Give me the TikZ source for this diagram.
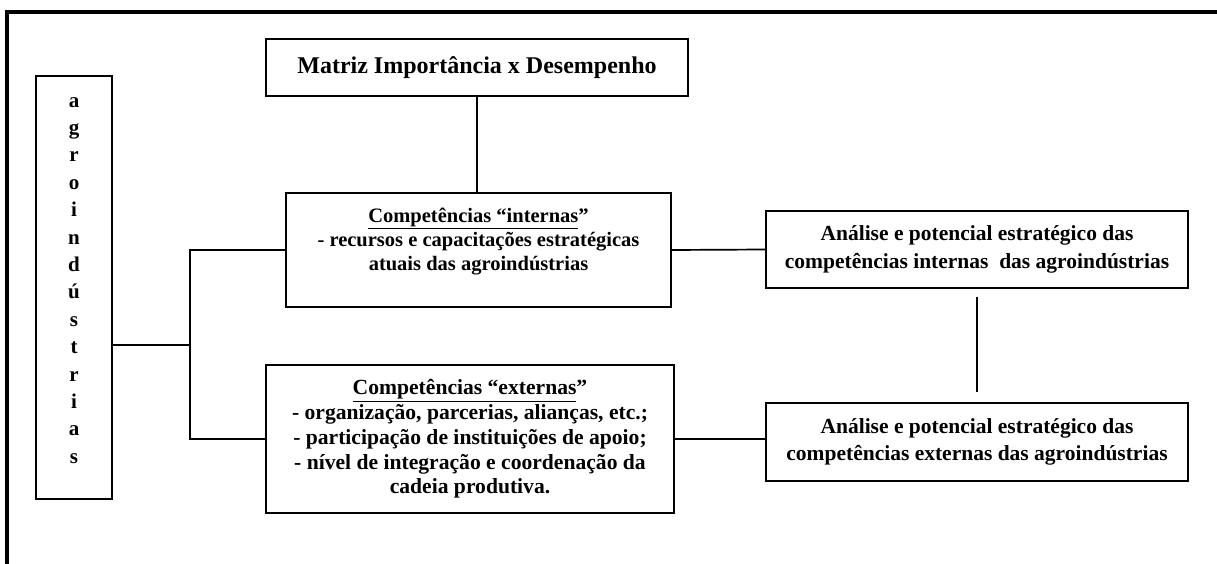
\documentclass[tikz,border=0pt]{standalone}
\usepackage{fontspec}
\setmainfont{Liberation Serif}
\usetikzlibrary{positioning,calc}

\begin{document}
\begin{tikzpicture}[
		x=1pt, y=-1pt,
		caixa/.style={draw, line width=1.7pt, align=center, inner sep=0pt,
			font=\bfseries\fontsize{20.5}{24}\selectfont},
		liga/.style={line width=1.7pt},
	]
	\useasboundingbox (0,0) rectangle (1217,564);
	% moldura
	\draw[line width=3.5pt] (1217,12) -- (7,12) -- (7,564);

	\node[caixa, minimum width=422pt, minimum height=57pt,
		font=\bfseries\fontsize{24}{28}\selectfont] (matriz) at (477,67.5)
		{Matriz Importância x Desempenho};

	\node[caixa, minimum width=76pt, minimum height=423pt, text depth=14.5pt,
		font=\bfseries\fontsize{21}{27.4}\selectfont] (agro) at (74,287.5)
		{a\\g\\r\\o\\i\\n\\d\\ú\\s\\t\\r\\i\\a\\s};

	\node[caixa, minimum width=385pt, minimum height=114pt, text depth=21pt] (internas) at (478.5,250)
		{\underline{Competências “internas}”\\
		- recursos e capacitações estratégicas\\
		atuais das agroindústrias};

	\node[caixa, minimum width=408pt, minimum height=148pt,
		font=\bfseries\fontsize{21.6}{24.7}\selectfont] (externas) at (470,439)
		{\underline{Competências “externas}”\\
		- organização, parcerias, alianças, etc.;\\
		- participação de instituições de apoio;\\
		- nível de integração e coordenação da\\
		cadeia produtiva.};

	\node[caixa, minimum width=422pt, minimum height=77pt,
		font=\bfseries\fontsize{21.5}{27.5}\selectfont] (analiseint) at (977,249.5)
		{Análise e potencial estratégico das\\
		competências internas\ \ das agroindústrias};

	\node[caixa, minimum width=422pt, minimum height=78pt,
		font=\bfseries\fontsize{21.5}{27.5}\selectfont] (analiseext) at (977,442)
		{Análise e potencial estratégico das\\
		competências externas das agroindústrias};

	% ligacoes
	\coordinate (juncao) at (190,345);
	\draw[liga] (matriz.south) -- (matriz.south |- internas.north);
	\draw[liga] (agro.east |- juncao) -- (juncao);
	\draw[liga] (internas.west) -| (juncao) |- (externas.west);
	\draw[liga] (internas.east) -- (analiseint.west);
	\draw[liga] (externas.east) -- (externas.east -| analiseext.west);
	\draw[liga] ([yshift=-8pt]analiseint.south) -- ([yshift=10pt]analiseext.north);

\end{tikzpicture}
\end{document}
